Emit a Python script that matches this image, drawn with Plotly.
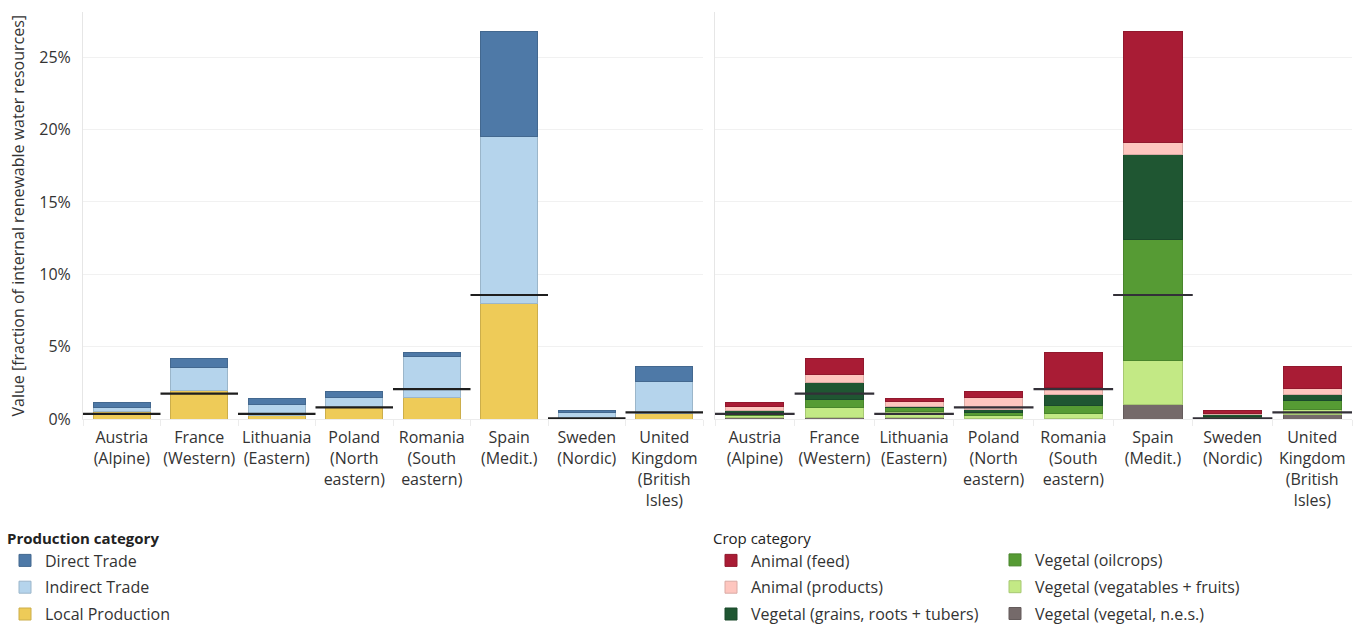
import plotly.graph_objects as go

# Regions (x-axis categories)
countries = [
    "Austria<br>(Alpine)",
    "France<br>(Western)",
    "Lithuania<br>(Eastern)",
    "Poland<br>(North<br>eastern)",
    "Romania<br>(South<br>eastern)",
    "Spain<br>(Medit.)",
    "Sweden<br>(Nordic)",
    "United<br>Kingdom<br>(British<br>Isles)",
]

# Production category shares (% of internal renewable water resources)
local_production = [0.55, 1.96, 0.23, 0.78, 1.50, 7.95, 0.06, 0.35]
indirect_trade = [0.23, 1.59, 0.76, 0.72, 2.85, 11.60, 0.37, 2.26]
direct_trade = [0.37, 0.65, 0.41, 0.37, 0.26, 7.26, 0.14, 1.01]

# Crop category shares (% of internal renewable water resources)
veg_nes = [0.09, 0.12, 0.12, 0.05, 0.05, 0.97, 0.05, 0.28]
veg_fruits = [0.14, 0.66, 0.39, 0.21, 0.30, 3.04, 0.05, 0.41]
veg_oilcrops = [0.21, 0.58, 0.26, 0.18, 0.55, 8.43, 0.10, 0.62]
veg_grains = [0.12, 1.15, 0.12, 0.19, 0.81, 5.85, 0.12, 0.39]
animal_products = [0.30, 0.58, 0.35, 0.88, 0.48, 0.80, 0.05, 0.41]
animal_feed = [0.30, 1.06, 0.18, 0.37, 2.42, 7.67, 0.20, 1.49]

# Reference level per region (black bars)
reference_level = [0.35, 1.75, 0.35, 0.81, 2.07, 8.57, 0.05, 0.46]

y_ticks = [0, 5, 10, 15, 20, 25]
y_tick_text = ["0%", "5%", "10%", "15%", "20%", "25%"]

FONT = "Open Sans"
TEXT = "#333333"
W, H = 1355, 626
BAR_W = 0.73


def darker(hex_color, f=0.86):
    h = hex_color.lstrip("#")
    r, g, b = (int(h[i:i + 2], 16) for i in (0, 2, 4))
    return "#%02x%02x%02x" % (int(r * f), int(g * f), int(b * f))


xs = list(range(len(countries)))

fig = go.Figure()

production_series = [
    ("Local Production", local_production, "#eecb58"),
    ("Indirect Trade", indirect_trade, "#b5d4ec"),
    ("Direct Trade", direct_trade, "#4e79a7"),
]
legend_order_prod = {"Direct Trade": 1, "Indirect Trade": 2, "Local Production": 3}
for name, vals, col in production_series:
    fig.add_trace(go.Bar(
        x=xs, y=vals, name=name, width=BAR_W,
        marker=dict(color=col, line=dict(color=darker(col), width=1)),
        xaxis="x", yaxis="y", legend="legend",
        legendrank=legend_order_prod[name], legendgroup=name,
    ))

crop_series = [
    ("Vegetal (vegetal, n.e.s.)", veg_nes, "#756a6a", "legend3", 3),
    ("Vegetal (vegatables + fruits)", veg_fruits, "#c3e985", "legend3", 2),
    ("Vegetal (oilcrops)", veg_oilcrops, "#569b34", "legend3", 1),
    ("Vegetal (grains, roots + tubers)", veg_grains, "#1f5632", "legend2", 3),
    ("Animal (products)", animal_products, "#fec6bf", "legend2", 2),
    ("Animal (feed)", animal_feed, "#a91c35", "legend2", 1),
]
for name, vals, col, leg, rank in crop_series:
    fig.add_trace(go.Bar(
        x=xs, y=vals, name=name, width=BAR_W,
        marker=dict(color=col, line=dict(color=darker(col), width=1)),
        xaxis="x2", yaxis="y2", legend=leg, legendrank=rank, legendgroup=name,
    ))

# Reference level segments spanning each region's full slot
ref_x, ref_y = [], []
for i, v in enumerate(reference_level):
    ref_x += [i - 0.5, i + 0.5, None]
    ref_y += [v, v, None]
for xa, ya, col in (("x", "y", "#1e1e1e"), ("x2", "y2", "#333038")):
    fig.add_trace(go.Scatter(
        x=ref_x, y=ref_y, mode="lines", line=dict(color=col, width=2.2),
        xaxis=xa, yaxis=ya, showlegend=False, hoverinfo="skip",
    ))

x_common = dict(
    range=[-0.5, 7.5], tickmode="array", tickvals=xs, ticktext=countries,
    tickfont=dict(family=FONT, size=16, color=TEXT), showgrid=False,
    zeroline=False, showline=True, linecolor="#ececec", linewidth=1,
    ticks="", fixedrange=True, tickangle=0, ticklabelstandoff=4,
    minor=dict(tickmode="linear", tick0=-0.5, dtick=1, ticks="outside",
               ticklen=6, tickcolor="#ececec", showgrid=False),
)
y_common = dict(
    range=[0, 28.13], tickmode="array", tickvals=y_ticks, ticktext=y_tick_text,
    showgrid=True, gridcolor="#f1f1f1", gridwidth=1, zeroline=False,
    showline=True, linecolor="#e6e6e6", linewidth=1, ticks="",
    automargin=False,
)

legend_common = dict(
    font=dict(family=FONT, size=16, color=TEXT),
    xref="container", yref="container", xanchor="left", yanchor="top",
    orientation="v", tracegroupgap=3, bgcolor="rgba(0,0,0,0)",
    itemclick=False, itemdoubleclick=False,
)

fig.update_layout(
    width=W, height=H,
    margin=dict(l=0, r=0, t=12, b=207, autoexpand=False),
    paper_bgcolor="white", plot_bgcolor="white",
    barmode="stack", bargap=0.27,
    font=dict(family=FONT, color=TEXT),
    xaxis=dict(domain=[83 / W, 703 / W], anchor="y", automargin=False, **x_common),
    xaxis2=dict(domain=[715 / W, 1352 / W], anchor="y2", automargin=False, **x_common),
    yaxis=dict(
        anchor="x", ticklabelstandoff=8,
        tickfont=dict(family=FONT, size=16, color=TEXT),
        **y_common,
    ),
    yaxis2=dict(anchor="x2", matches="y", showticklabels=False, **y_common),
    legend=dict(
        title=dict(text="<b>Production category</b>",
                   font=dict(family=FONT, size=15, color="#222222")),
        x=5 / W, y=1 - 524 / H, **legend_common,
    ),
    legend2=dict(
        title=dict(text="Crop category",
                   font=dict(family=FONT, size=15, color="#222222")),
        x=711 / W, y=1 - 524 / H, **legend_common,
    ),
    legend3=dict(x=995 / W, y=1 - 543 / H, **legend_common),
    annotations=[dict(
        text="Value [fraction of internal renewable water resources]",
        xref="paper", yref="paper", x=17 / W, y=0.5, textangle=-90,
        xanchor="center", yanchor="middle", showarrow=False,
        font=dict(family=FONT, size=16, color=TEXT),
    )],
)

fig.write_html("out.html")
